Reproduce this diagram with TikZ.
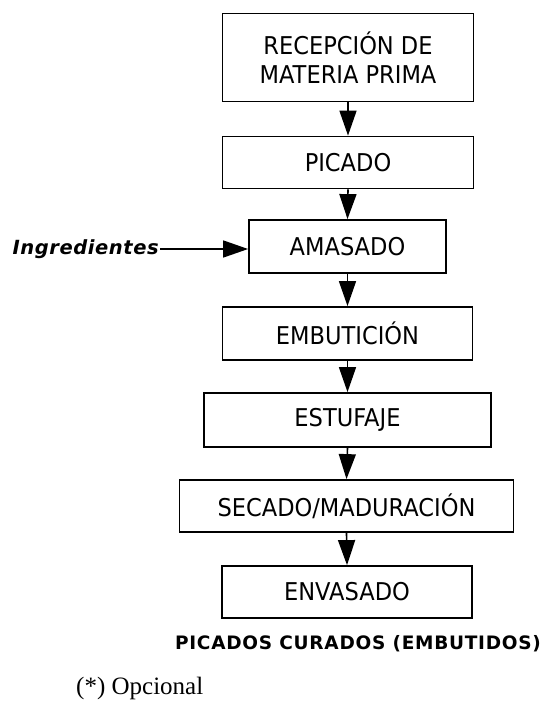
\documentclass[tikz,border=0pt]{standalone}
\usepackage{fontspec}
\setmainfont{DejaVu Sans}
\newfontfamily\boxface[FakeStretch=0.92]{DejaVu Sans}
\newfontfamily\serifface{Liberation Serif}
\usetikzlibrary{arrows.meta}
\tikzset{
  stepbox/.style={draw, line width=1.8pt, minimum width=#1, inner sep=0pt, align=center, font=\boxface\fontsize{24.5}{29}\selectfont},
  flow/.style={line width=1.6pt, -{Triangle[length=25pt,width=17pt]}},
}
\begin{document}
\begin{tikzpicture}[x=1pt,y=1pt]
\useasboundingbox (0,0) rectangle (548,-710);
\node[stepbox=251pt, minimum height=88pt] (b1) at (348,-57.5) {RECEPCIÓN DE\\MATERIA PRIMA};
\node[stepbox=251pt, minimum height=52pt] (b2) at (348,-162.5) {PICADO};
\node[stepbox=197pt, minimum height=53pt] (b3) at (347.5,-246.5) {AMASADO};
\node[stepbox=250pt, minimum height=53pt] (b4) at (347.5,-333.5) {EMBUTICIÓN};
\node[stepbox=287pt, minimum height=54pt] (b5) at (347.5,-420) {ESTUFAJE};
\node[stepbox=334pt, minimum height=52pt] (b6) at (346.5,-506) {SECADO/MADURACIÓN};
\node[stepbox=250pt, minimum height=52pt] (b7) at (347,-592) {ENVASADO};
\node[anchor=east, inner sep=0pt, font=\fontsize{19.5}{22}\selectfont\bfseries\itshape\addfontfeature{LetterSpace=3}] (ing) at (159,-249) {Ingredientes};
\node[inner sep=0pt, font=\fontsize{18.5}{21}\selectfont\bfseries\addfontfeature{LetterSpace=4}] (prod) at (358,-644) {PICADOS CURADOS (EMBUTIDOS)};
\node[anchor=west, inner sep=0pt, font=\fontsize{25}{28}\selectfont\serifface] (opc) at (76,-688) {(*) Opcional};
\draw[flow] (b1.south) -- (b2.north);
\draw[flow] (b2.south) -- (b3.north);
\draw[flow] (b3.south) -- (b4.north);
\draw[flow] (b4.south) -- (b5.north);
\draw[flow] (b5.south) -- (b6.north);
\draw[flow] (b6.south) -- (b7.north);
\draw[flow] (ing.east) ++(1,0) coordinate (ingstart) (ingstart) -- (b3.west |- ingstart);
\end{tikzpicture}
\end{document}
